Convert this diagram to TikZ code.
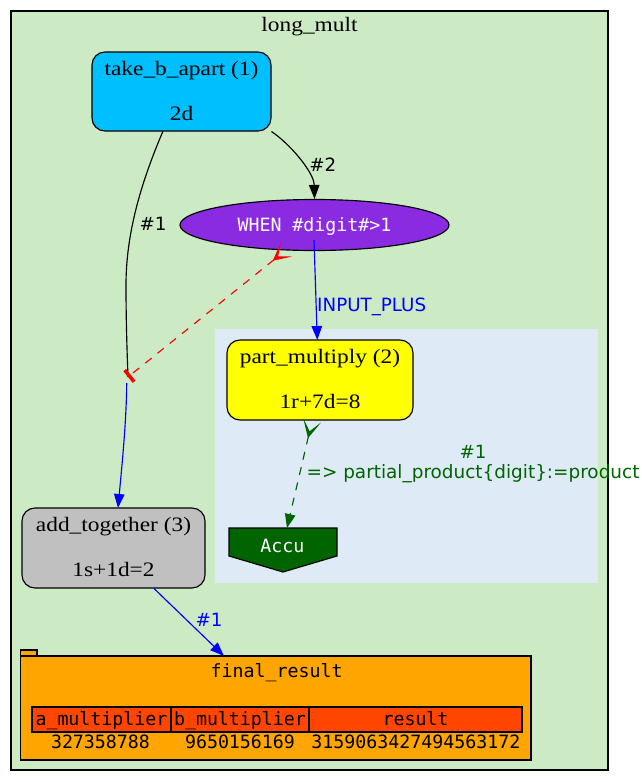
\documentclass[tikz,border=0pt]{standalone}
\usepackage{fontspec}
\newfontfamily\dmono{DejaVu Sans Mono}
\newfontfamily\dsans{DejaVu Sans}
\newfontfamily\wideserif[FakeStretch=1.14]{Liberation Serif}
\usetikzlibrary{arrows.meta,shapes.geometric,calc}
\definecolor{clgreen}{HTML}{CCEBC5}
\definecolor{clblue}{HTML}{DEEBF7}
\definecolor{dgreen}{HTML}{006400}
\definecolor{orangered}{HTML}{FF4500}
\definecolor{orange2}{HTML}{FFA500}
\definecolor{skyfill}{HTML}{00BFFF}
\definecolor{purplefill}{HTML}{8A2BE2}
\definecolor{grayfill}{HTML}{C0C0C0}
\definecolor{yellowfill}{HTML}{FFFF00}
\definecolor{pureblue}{HTML}{0000FF}
\definecolor{purered}{HTML}{FF0000}
\tikzset{
  x=1pt,y=-1pt,
  serif/.style={font=\wideserif\fontsize{20.5}{22.5}\selectfont},
  mono/.style={font=\dmono\fontsize{18.27}{22}\selectfont},
  sans/.style={font=\dsans\fontsize{18.27}{20}\selectfont},
  job/.style={draw=black,line width=1.15pt,rounded corners=13pt,inner sep=0pt,align=center,serif,text height=60pt,text depth=3pt},
  lbl/.style={inner sep=0pt,anchor=base},
  cell/.style={draw=black,line width=1.15pt,fill=orangered,inner sep=0pt,minimum height=25pt,mono,text height=14pt,text depth=3pt},
  tri/.style={-{Triangle[length=14pt,width=10.5pt]}},
  edge/.style={line width=1.15pt},
  dashy/.style={dashed,dash pattern=on 8pt off 7.7pt},
  veehead/.tip={Stealth[reversed,length=18pt,width=18pt,inset=11pt]},
}
\begin{document}
\begin{tikzpicture}
\useasboundingbox (0,0) rectangle (641,782);
% clusters
\draw[fill=clgreen,draw=black,line width=2.7pt] (11,11) rectangle (608,770);
\fill[clblue] (215,329) rectangle (598,583);
\node[lbl,serif] (title) at (309.5,31.6) {long\_mult};
% nodes
\node[job,fill=skyfill,minimum width=179pt,minimum height=79pt] (take) at (181.5,91.5) {take\_b\_apart (1)\\ \\2d};
\node[draw=black,line width=1.15pt,fill=purplefill,ellipse,minimum width=269pt,minimum height=51pt,inner sep=0pt,text=white,mono,text height=15pt,text depth=1.6pt] (cond) at (314.5,225) {WHEN \#digit\#>1};
\node[job,fill=yellowfill,minimum width=186pt,minimum height=80pt] (part) at (320,380) {part\_multiply (2)\\ \\1r+7d=8};
\node[job,fill=grayfill,minimum width=183pt,minimum height=80pt] (add) at (113.5,548) {add\_together (3)\\ \\1s+1d=2};
% accu
\draw[fill=dgreen,draw=black,line width=1.15pt] (229,528) -- (337,528) -- (337,556) -- (283,572) -- (229,556) -- cycle;
\node[lbl,mono,text=white] (accu) at (282.3,552.7) {Accu};
% final result
\draw[fill=orange2,draw=black,line width=1.15pt] (20.5,650) rectangle (37,656);
\node[draw=black,line width=1.15pt,fill=orange2,minimum width=510.5pt,minimum height=104pt,inner sep=0pt] (final) at (275.75,708) {};
\node[lbl,mono] (finaltitle) at (276.7,677.7) {final\_result};
\node[cell,minimum width=139pt] (ca) at (101.5,719.5) {a\_multiplier};
\node[cell,minimum width=138pt] (cb) at (240,719.5) {b\_multiplier};
\node[cell,minimum width=213pt] (cc) at (415.5,719.5) {result};
\node[lbl,mono] (va) at (100.5,748) {327358788};
\node[lbl,mono] (vb) at (240,748) {9650156169};
\node[lbl,mono] (vc) at (415.8,748) {3159063427494563172};
% free ends
\coordinate (junction) at (128,377);
\coordinate (junctionout) at (126.7,383);
\coordinate (addin) at (118,508);
\coordinate (condout) at (314,240);
\coordinate (condedge) at (286.7,249.5);
\coordinate (partin) at (317.3,340);
\coordinate (accutop) at (287,528);
\coordinate (finaltop) at (224,656);
% connectors
\draw[edge,black,tri] (take.-24) .. controls (289,143) and (314,172) .. (cond.north);
\draw[edge,black] (take.-115) .. controls (140,185) and (126,235) .. (126,285) .. controls (126,320) and (127,350) .. (junction);
\draw[edge,pureblue,tri] (junctionout) .. controls (126.5,420) and (122,465) .. (addin);
\draw[edge,pureblue,tri] (condout) -- (partin);
\draw[edge,purered,dashy,{veehead}-{Bar[width=15pt,line width=3.5pt]}] (condedge) -- (junction);
\draw[edge,dgreen,dashy,{veehead}-{Triangle[length=14pt,width=10.5pt]}] (part.-101.3) -- (accutop);
\draw[edge,pureblue,tri] (add.-45.6) -- (finaltop);
% labels
\node[lbl,sans] (l2) at (322.8,171) {\#2};
\node[lbl,sans] (l1) at (153,230) {\#1};
\node[lbl,sans,text=pureblue] (l3) at (371.7,311) {INPUT\_PLUS};
\node[lbl,sans,text=dgreen] (l4) at (473,458) {\#1};
\node[lbl,font=\dsans\fontsize{18.42}{20}\selectfont,text=dgreen] (l5) at (473,478.5) {=> partial\_product\{digit\}:=product};
\node[lbl,sans,text=pureblue] (l6) at (209,626.7) {\#1};
\end{tikzpicture}
\end{document}
